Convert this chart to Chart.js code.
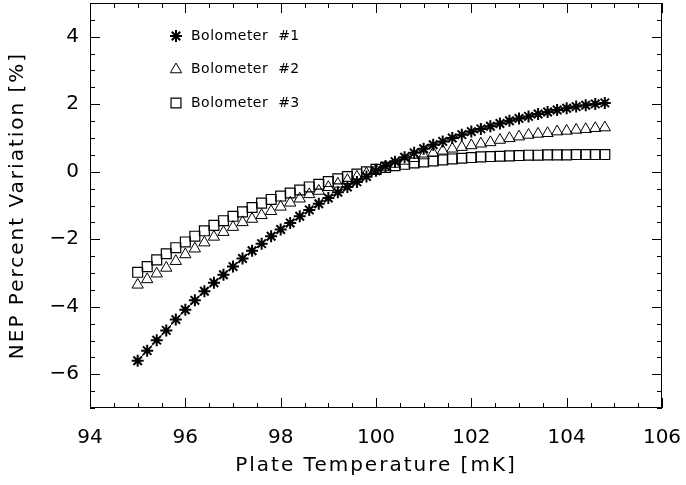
<!DOCTYPE html>
<html>
<head>
<meta charset="utf-8">
<script src="https://cdn.jsdelivr.net/npm/chart.js@4"></script>
<style>
  html, body { margin: 0; padding: 0; background: #fff; }
  #wrap { width: 686px; height: 485px; }
</style>
</head>
<body>
<div id="wrap"><canvas id="nepChart"></canvas></div>
<script>
// plate temperature [mK]
var temps = [95.0, 95.2, 95.4, 95.6, 95.8, 96.0, 96.2, 96.4, 96.6, 96.8,
             97.0, 97.2, 97.4, 97.6, 97.8, 98.0, 98.2, 98.4, 98.6, 98.8,
             99.0, 99.2, 99.4, 99.6, 99.8, 100.0, 100.2, 100.4, 100.6, 100.8,
             101.0, 101.2, 101.4, 101.6, 101.8, 102.0, 102.2, 102.4, 102.6, 102.8,
             103.0, 103.2, 103.4, 103.6, 103.8, 104.0, 104.2, 104.4, 104.6, 104.8];

// NEP percent variation [%]
var bolo1 = [-5.60, -5.30, -4.99, -4.70, -4.38, -4.09, -3.81, -3.54, -3.29, -3.05,
             -2.81, -2.57, -2.34, -2.13, -1.91, -1.71, -1.52, -1.32, -1.13, -0.95,
             -0.78, -0.61, -0.45, -0.30, -0.14, 0.03, 0.17, 0.30, 0.43, 0.56,
             0.68, 0.80, 0.90, 1.00, 1.10, 1.19, 1.27, 1.35, 1.43, 1.51,
             1.58, 1.64, 1.71, 1.77, 1.83, 1.88, 1.93, 1.97, 2.01, 2.04];
var bolo2 = [-3.35, -3.19, -3.02, -2.85, -2.65, -2.45, -2.28, -2.10, -1.93, -1.79,
             -1.64, -1.50, -1.40, -1.29, -1.17, -1.04, -0.92, -0.80, -0.67, -0.57,
             -0.46, -0.36, -0.25, -0.15, -0.05, 0.05, 0.14, 0.23, 0.32, 0.40,
             0.48, 0.55, 0.62, 0.68, 0.73, 0.78, 0.83, 0.87, 0.94, 0.99,
             1.04, 1.09, 1.12, 1.14, 1.19, 1.21, 1.24, 1.26, 1.29, 1.31];
var bolo3 = [-2.98, -2.81, -2.61, -2.43, -2.25, -2.08, -1.91, -1.75, -1.59, -1.45,
             -1.32, -1.19, -1.06, -0.93, -0.82, -0.72, -0.63, -0.54, -0.45, -0.37,
             -0.29, -0.21, -0.14, -0.07, 0.00, 0.07, 0.13, 0.18, 0.22, 0.26,
             0.29, 0.32, 0.35, 0.38, 0.40, 0.42, 0.44, 0.45, 0.46, 0.47,
             0.48, 0.49, 0.49, 0.50, 0.50, 0.50, 0.51, 0.51, 0.51, 0.51];

var seriesNames = ['Bolometer  #1', 'Bolometer  #2', 'Bolometer  #3'];
var xTicks = [94, 96, 98, 100, 102, 104, 106];
var yTicks = [-6, -4, -2, 0, 2, 4];
var xTitle = 'Plate Temperature [mK]';
var yTitle = 'NEP Percent Variation [%]';

var FONT = '"DejaVu Sans", sans-serif';

function pairs(ys) {
    return temps.map(function(t, i) { return {x: t, y: ys[i]}; });
}

// IDL style box: inward major + minor ticks on all four sides
var boxTicks = {
    id: 'boxTicks',
    afterDraw: function(chart) {
        var ctx = chart.ctx, a = chart.chartArea;
        var xs = chart.scales.x, ys = chart.scales.y;
        ctx.save();
        ctx.strokeStyle = '#000';
        ctx.lineWidth = 1;
        ctx.strokeRect(a.left + 0.5, a.top + 0.5, a.right - a.left - 1, a.bottom - a.top - 1);
        ctx.beginPath();
        for (var v = xs.min; v <= xs.max + 1e-6; v += 0.5) {
            var px = Math.round(xs.getPixelForValue(v)) + 0.5;
            var len = (Math.abs(v % 2) < 1e-6) ? 10 : 5;
            ctx.moveTo(px, a.bottom); ctx.lineTo(px, a.bottom - len);
            ctx.moveTo(px, a.top); ctx.lineTo(px, a.top + len);
        }
        for (var w = ys.min; w <= ys.max + 1e-6; w += 0.5) {
            var py = Math.round(ys.getPixelForValue(w)) + 0.5;
            var ln = (Math.abs(w % 2) < 1e-6) ? 10 : 5;
            ctx.moveTo(a.left, py); ctx.lineTo(a.left + ln, py);
            ctx.moveTo(a.right, py); ctx.lineTo(a.right - ln, py);
        }
        ctx.stroke();

        // axis titles, spaced out like the Hershey font
        ctx.fillStyle = '#000';
        ctx.font = '20px ' + FONT;
        ctx.letterSpacing = '2px';
        ctx.textAlign = 'center';
        ctx.textBaseline = 'middle';
        ctx.fillText(xTitle, (a.left + a.right) / 2, 466);
        ctx.translate(18, (a.top + a.bottom) / 2);
        ctx.rotate(-Math.PI / 2);
        ctx.fillText(yTitle, 0, 0);
        ctx.restore();
    }
};

// legend inside the plot, top-left
var innerLegend = {
    id: 'innerLegend',
    afterDraw: function(chart) {
        var ctx = chart.ctx, a = chart.chartArea;
        ctx.save();
        ctx.textBaseline = 'middle';
        chart.data.datasets.forEach(function(ds, i) {
            var mx = a.left + 86, my = a.top + 33 + i * 33.5;
            ctx.strokeStyle = '#000';
            ctx.fillStyle = 'rgba(0,0,0,0)';
            ctx.lineWidth = ds.pointBorderWidth;
            Chart.helpers.drawPoint(ctx, {
                pointStyle: ds.pointStyle, radius: ds.pointRadius,
                borderWidth: ds.pointBorderWidth, rotation: 0
            }, mx, my);
            ctx.fillStyle = '#000';
            ctx.font = '14px ' + FONT;
            ctx.letterSpacing = '0.5px';
            ctx.fillText(ds.label, mx + 15, my);
        });
        ctx.restore();
    }
};

var ctx = document.getElementById('nepChart').getContext('2d');
var nepChart = new Chart(ctx, {
    type: 'scatter',
    data: {
        datasets: [{
            label: seriesNames[0],
            data: pairs(bolo1),
            showLine: true,
            borderColor: '#000',
            borderWidth: 1,
            pointStyle: 'star',
            pointRadius: 6,
            pointBorderWidth: 2,
            pointBorderColor: '#000',
            pointBackgroundColor: 'rgba(0,0,0,0)'
        }, {
            label: seriesNames[1],
            data: pairs(bolo2),
            pointStyle: 'triangle',
            pointRadius: 6.5,
            pointBorderWidth: 1,
            pointBorderColor: '#000',
            pointBackgroundColor: 'rgba(0,0,0,0)'
        }, {
            label: seriesNames[2],
            data: pairs(bolo3),
            pointStyle: 'rect',
            pointRadius: 7,
            pointBorderWidth: 1.2,
            pointBorderColor: '#000',
            pointBackgroundColor: 'rgba(0,0,0,0)'
        }]
    },
    options: {
        responsive: true,
        maintainAspectRatio: false,
        animation: false,
        events: [],
        layout: { autoPadding: false, padding: { top: 3, right: 24, left: 0, bottom: 0 } },
        plugins: {
            legend: { display: false },
            tooltip: { enabled: false }
        },
        scales: {
            x: {
                type: 'linear',
                min: 94,
                max: 106,
                afterBuildTicks: function(scale) {
                    scale.ticks = xTicks.map(function(v) { return {value: v}; });
                },
                afterFit: function(scale) {
                    scale.height = 77;
                    scale.paddingLeft = 0;
                    scale.paddingRight = 0;
                },
                grid: { display: false, drawTicks: false },
                border: { display: false },
                ticks: {
                    maxRotation: 0,
                    autoSkip: false,
                    padding: 18,
                    color: '#000',
                    font: { family: FONT, size: 20 }
                },
                title: { display: false }
            },
            y: {
                type: 'linear',
                min: -7,
                max: 5,
                afterBuildTicks: function(scale) {
                    scale.ticks = yTicks.map(function(v) { return {value: v}; });
                },
                afterFit: function(scale) {
                    scale.width = 90;
                    scale.paddingTop = 0;
                    scale.paddingBottom = 0;
                },
                grid: { display: false, drawTicks: false },
                border: { display: false },
                ticks: {
                    padding: 11,
                    color: '#000',
                    font: { family: FONT, size: 20 },
                    callback: function(v) { return v < 0 ? '\u2212' + Math.abs(v) : String(v); }
                },
                title: { display: false }
            }
        }
    },
    plugins: [boxTicks, innerLegend]
});
</script>
</body>
</html>
